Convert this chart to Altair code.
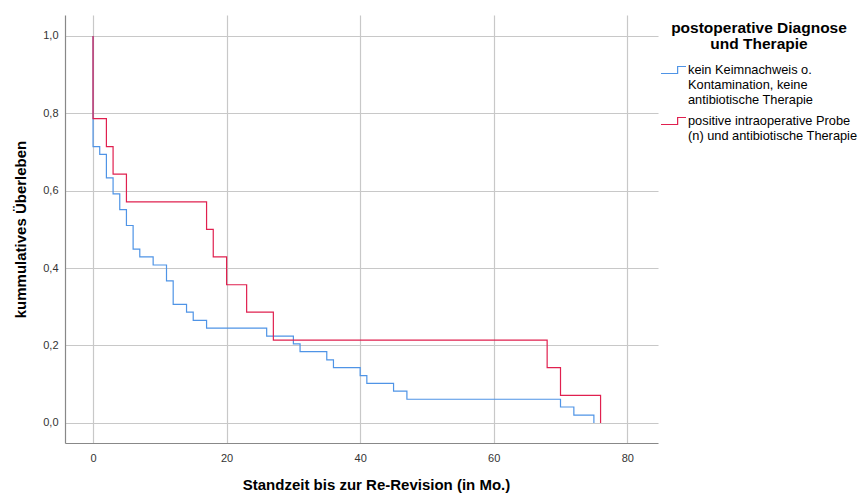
import altair as alt
import pandas as pd

group_blue = "kein Keimnachweis o. Kontamination, keine antibiotische Therapie"
group_red = "positive intraoperative Probe (n) und antibiotische Therapie"

blue_t = [0, 0, 1, 2, 3, 4, 5, 6, 7, 9, 11, 12, 14, 15, 17, 26, 30, 31, 35, 36, 40, 41, 45, 47, 70, 72, 75]
blue_s = [1.0, 0.714, 0.694, 0.633, 0.592, 0.551, 0.510, 0.449, 0.429, 0.408, 0.367, 0.306, 0.286, 0.265,
          0.245, 0.224, 0.204, 0.184, 0.163, 0.143, 0.122, 0.102, 0.082, 0.061, 0.041, 0.020, 0.0]

red_t = [0, 0, 2, 3, 5, 17, 18, 20, 23, 27, 68, 70, 76]
red_s = [1.0, 0.786, 0.714, 0.643, 0.571, 0.5, 0.429, 0.357, 0.286, 0.214, 0.143, 0.071, 0.0]

rows = []
for i, (t, s) in enumerate(zip(blue_t, blue_s)):
    rows.append({"t": t, "s": s, "g": group_blue, "o": i})
for i, (t, s) in enumerate(zip(red_t, red_s)):
    rows.append({"t": t, "s": s, "g": group_red, "o": i})
df = pd.DataFrame(rows)

FONT = "Liberation Sans"

chart = alt.Chart(df).mark_line(interpolate="step-after", strokeWidth=1.2).encode(
    x=alt.X("t:Q", scale=alt.Scale(domain=[-4.2, 84.6], nice=False, zero=False),
            axis=alt.Axis(values=[0, 20, 40, 60, 80], title="Standzeit bis zur Re-Revision (in Mo.)",
                          ticks=False, labelPadding=9, titlePadding=14, grid=True, titleX=311)),
    y=alt.Y("s:Q", scale=alt.Scale(domain=[-0.052, 1.054], nice=False, zero=False),
            axis=alt.Axis(values=[0, 0.2, 0.4, 0.6, 0.8, 1.0], title="kummulatives Überleben",
                          labelExpr="replace(format(datum.value, '.1f'), '.', ',')",
                          ticks=False, labelPadding=7, titlePadding=14, grid=True)),
    color=alt.Color("g:N", scale=alt.Scale(domain=[group_blue, group_red], range=["#4f94e6", "#e0204f"]),
                    legend=alt.Legend(
                        title=["postoperative Diagnose", "und Therapie"],
                        orient="none", legendX=595, legendY=6,
                        titleFontSize=15.5, titleFont=FONT, titleFontWeight="bold", titleColor="#000",
                        titleAlign="center", titleAnchor="middle", titlePadding=4, titleLineHeight=16,
                        titleLimit=400,
                        labelFont=FONT, labelFontSize=12.8, labelColor="#000", labelLimit=400,
                        labelExpr="datum.label == '" + group_blue + "' ? ['kein Keimnachweis o.', 'Kontamination, keine', 'antibiotische Therapie'] : ['positive intraoperative Probe', '(n) und antibiotische Therapie']",
                        symbolType="M-1,0.28H0.33V-0.28H1", symbolSize=625, symbolStrokeWidth=1.2,
                        symbolFillColor="transparent", labelOffset=1, rowPadding=1)),
    order="o:Q",
).properties(
    width=593, height=428,
    autosize=alt.AutoSizeParams(type="none"),
    padding={"left": 57, "top": 7, "right": 202, "bottom": 50},
).configure_view(stroke=None).configure_axis(
    gridColor="#c8c8c8", gridWidth=1.2, domainColor="#888888", domainWidth=1.2,
    labelFont=FONT, labelFontSize=11, labelColor="#333333",
    titleFont=FONT, titleFontSize=15, titleFontWeight="bold", titleColor="#000000",
)

chart.save("out.html", embed_options={"renderer": "svg", "actions": False})
